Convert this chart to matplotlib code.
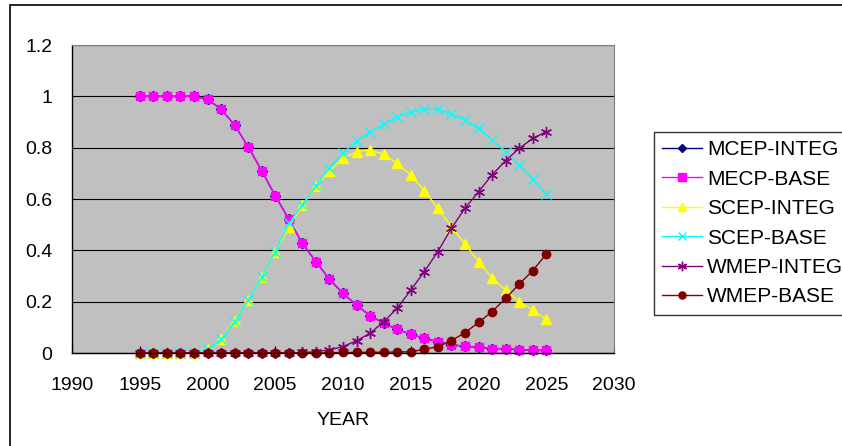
import matplotlib
matplotlib.use("Agg")
import matplotlib.pyplot as plt
from matplotlib.patches import Rectangle
from matplotlib.ticker import FuncFormatter
import numpy as np

plt.rcParams['font.family'] = ['Liberation Sans', 'DejaVu Sans']

years = list(range(1995, 2026))

mecp_base = [1.0, 1.0, 1.0, 1.0, 1.0, 0.989, 0.95, 0.888, 0.804, 0.71,
             0.613, 0.521, 0.427, 0.356, 0.287, 0.232, 0.187, 0.145, 0.116, 0.092,
             0.073, 0.057, 0.044, 0.031, 0.027, 0.022, 0.017, 0.017, 0.013, 0.010,
             0.010]
# MCEP-INTEG sits right under MECP-BASE in the picture
mcep_integ = list(mecp_base)

scep_integ = [0, 0, 0, 0, 0, 0.015, 0.055, 0.125, 0.206, 0.295,
              0.395, 0.49, 0.575, 0.65, 0.71, 0.758, 0.784, 0.791, 0.774, 0.739,
              0.694, 0.632, 0.564, 0.492, 0.425, 0.356, 0.293, 0.245, 0.2, 0.168,
              0.131]
scep_base = [0, 0, 0, 0, 0, 0.015, 0.053, 0.122, 0.206, 0.295,
             0.395, 0.505, 0.577, 0.652, 0.722, 0.78, 0.826, 0.862, 0.891, 0.921,
             0.938, 0.949, 0.949, 0.931, 0.908, 0.875, 0.83, 0.784, 0.732, 0.677,
             0.62]
wmep_integ = [0, 0, 0, 0, 0, 0, 0, 0, 0, 0,
              0, 0, 0.002, 0.005, 0.012, 0.025, 0.048, 0.077, 0.122, 0.174,
              0.245, 0.317, 0.395, 0.486, 0.564, 0.628, 0.694, 0.749, 0.797, 0.836,
              0.862]
wmep_base = [0, 0, 0, 0, 0, 0, 0, 0, 0, 0,
             0, 0, 0, 0, 0.001, 0.002, 0.002, 0.003, 0.003, 0.004,
             0.005, 0.014, 0.025, 0.048, 0.079, 0.119, 0.161, 0.213, 0.268, 0.321,
             0.385]

series = [
    ("MCEP-INTEG", mcep_integ, "#000080", "D", 5),
    ("MECP-BASE", mecp_base, "#FF00FF", "s", 6),
    ("SCEP-INTEG", scep_integ, "#FFFF00", "^", 7),
    ("SCEP-BASE", scep_base, "#00FFFF", "x", 7),
    ("WMEP-INTEG", wmep_integ, "#800080", (6, 2, 0), 8),
    ("WMEP-BASE", wmep_base, "#800000", "o", 6),
]

fig = plt.figure(figsize=(8.42, 4.46), dpi=100)
ax = fig.add_axes([72/842, 1-353/446, (614-72)/842, (353-45)/446])
ax.set_facecolor("#C0C0C0")

for name, vals, col, mk, ms in series:
    ax.plot(years, vals, color=col, lw=1.0, marker=mk, markersize=ms,
            markerfacecolor=col, markeredgecolor=col, mew=1.0,
            label=name, clip_on=False)

ax.set_xlim(1990, 2030)
ax.set_ylim(0, 1.2)
ax.set_xticks(range(1990, 2031, 5))
ax.set_yticks(np.arange(0, 1.21, 0.2))
ax.yaxis.set_major_formatter(FuncFormatter(lambda v, p: "%g" % round(v, 1)))
ax.yaxis.grid(True, color="black", lw=0.8)
ax.set_axisbelow(True)
ax.tick_params(axis='x', direction='in', length=5, pad=17, labelsize=14, color='black')
ax.tick_params(axis='y', direction='in', length=0, pad=14, labelsize=14)
for s in ['top', 'right']:
    ax.spines[s].set_color('#808080')
for s in ['left', 'bottom']:
    ax.spines[s].set_color('black')
    ax.spines[s].set_linewidth(1.0)

ax.set_xlabel("YEAR", fontsize=14, labelpad=13)

leg = ax.legend(loc='upper left', bbox_to_anchor=(654/842, 1-132/446),
                bbox_transform=fig.transFigure, fontsize=15, frameon=True,
                fancybox=False, shadow=False, borderpad=0.4, labelspacing=0.5,
                handlelength=1.9, handletextpad=0.25, borderaxespad=0,
                markerscale=0.85)
leg.get_frame().set_edgecolor('black')
leg.get_frame().set_linewidth(1.0)

fig.patches.append(Rectangle((10/842, -0.1), 1.2, 1.1 - 4.5/446,
                             transform=fig.transFigure, fill=False,
                             edgecolor='black', lw=1.2))

fig.savefig("out.png", dpi=100)
